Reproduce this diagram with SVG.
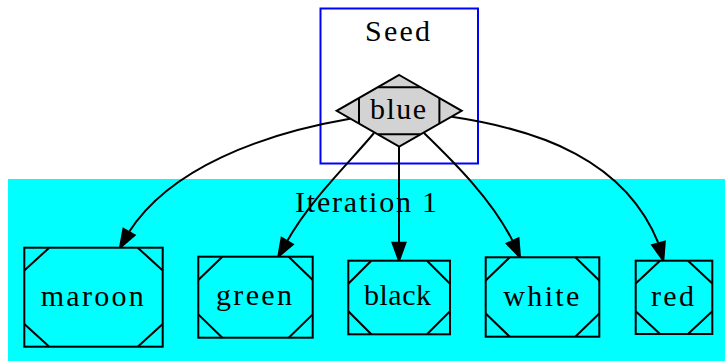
<svg xmlns="http://www.w3.org/2000/svg" width="725" height="361" viewBox="0 0 725 361">
  <style>
    text { font-family: "Liberation Serif", "Times New Roman", serif; font-size: 30px; fill: #000; }
    .node { fill: #00ffff; stroke: #000; stroke-width: 2; }
    .mark { fill: none; stroke: #000; stroke-width: 2; }
    .edge { fill: none; stroke: #000; stroke-width: 2; }
    .head { fill: #000; stroke: #000; stroke-width: 2; }
  </style>

  <rect width="725" height="361" fill="#fff"/>

  <!-- cluster: Iteration 1 -->
  <g id="cluster_iter1">
    <rect x="8" y="179" width="720" height="185" fill="#00ffff"/>
    <text x="295" y="212.3" textLength="142" lengthAdjust="spacing">Iteration 1</text>
  </g>

  <!-- cluster: Seed -->
  <g id="cluster_seed">
    <rect x="320.5" y="8.5" width="157.5" height="155" fill="none" stroke="#0000ff" stroke-width="2"/>
    <text x="365" y="40.5" textLength="65" lengthAdjust="spacing">Seed</text>
  </g>

  <!-- connectors -->
  <g id="edges">
    <path class="edge" d="M350,118.8 C262,134 170,168 129,232"/>
    <polygon class="head" points="120,247.7 134.6,235.2 123.4,228.8"/>

    <path class="edge" d="M374,133 C350,162 310,200 287.2,241.1"/>
    <polygon class="head" points="278.3,256.7 292.8,244.3 281.6,237.9"/>

    <path class="edge" d="M399,147 L399,242.7"/>
    <polygon class="head" points="399,260.7 392.5,242.7 405.5,242.7"/>

    <path class="edge" d="M424,133 C455,163 492,200 512.6,240.9"/>
    <polygon class="head" points="520,257.3 518.5,238.2 506.7,243.6"/>

    <path class="edge" d="M451.7,116.8 C540,130 625,160 658.5,243.3"/>
    <polygon class="head" points="663.3,260.7 664.8,241.6 652.2,245"/>
  </g>

  <!-- node: blue (Mdiamond) -->
  <g id="node_blue">
    <polygon points="399.2,75 461.7,110.8 399.2,146.7 336.7,110.8" fill="#d3d3d3" stroke="#000" stroke-width="2"/>
    <path class="mark" d="M378,87.3 H420.4 M359,98 V123.6 M439.4,98 V123.6 M378,134.3 H420.4"/>
    <text x="370" y="119.3" textLength="56" lengthAdjust="spacing">blue</text>
  </g>

  <!-- node: maroon (Msquare) -->
  <g id="node_maroon">
    <rect class="node" x="24.3" y="247.7" width="138.4" height="99"/>
    <path class="mark" d="M24.3,270.4 L49.3,247.7 M137.7,247.7 L162.7,270.4 M24.3,324 L49.3,346.7 M137.7,346.7 L162.7,324"/>
    <text x="40.7" y="305.7" textLength="103" lengthAdjust="spacing">maroon</text>
  </g>

  <!-- node: green (Msquare) -->
  <g id="node_green">
    <rect class="node" x="198.3" y="256.7" width="114.4" height="81"/>
    <path class="mark" d="M198.3,280 L222.3,256.7 M288.7,256.7 L312.7,280 M198.3,314.4 L222.3,337.7 M288.7,337.7 L312.7,314.4"/>
    <text x="216" y="305" textLength="76" lengthAdjust="spacing">green</text>
  </g>

  <!-- node: black (Msquare) -->
  <g id="node_black">
    <rect class="node" x="348.3" y="260.7" width="101.7" height="73.6"/>
    <path class="mark" d="M348.3,283.7 L371.3,260.7 M427,260.7 L450,283.7 M348.3,311.3 L371.3,334.3 M427,334.3 L450,311.3"/>
    <text x="364" y="305" textLength="67" lengthAdjust="spacing">black</text>
  </g>

  <!-- node: white (Msquare) -->
  <g id="node_white">
    <rect class="node" x="485.7" y="257.3" width="113.6" height="79.4"/>
    <path class="mark" d="M485.7,280.5 L509.7,257.3 M575.3,257.3 L599.3,280.5 M485.7,313.5 L509.7,336.7 M575.3,336.7 L599.3,313.5"/>
    <text x="503.3" y="305.7" textLength="76" lengthAdjust="spacing">white</text>
  </g>

  <!-- node: red (Msquare) -->
  <g id="node_red">
    <rect class="node" x="635.7" y="260.7" width="76.6" height="73.3"/>
    <path class="mark" d="M635.7,283.4 L660,260.7 M688,260.7 L712.3,283.4 M635.7,311.3 L660,334 M688,334 L712.3,311.3"/>
    <text x="651" y="305.7" textLength="43" lengthAdjust="spacing">red</text>
  </g>
</svg>
